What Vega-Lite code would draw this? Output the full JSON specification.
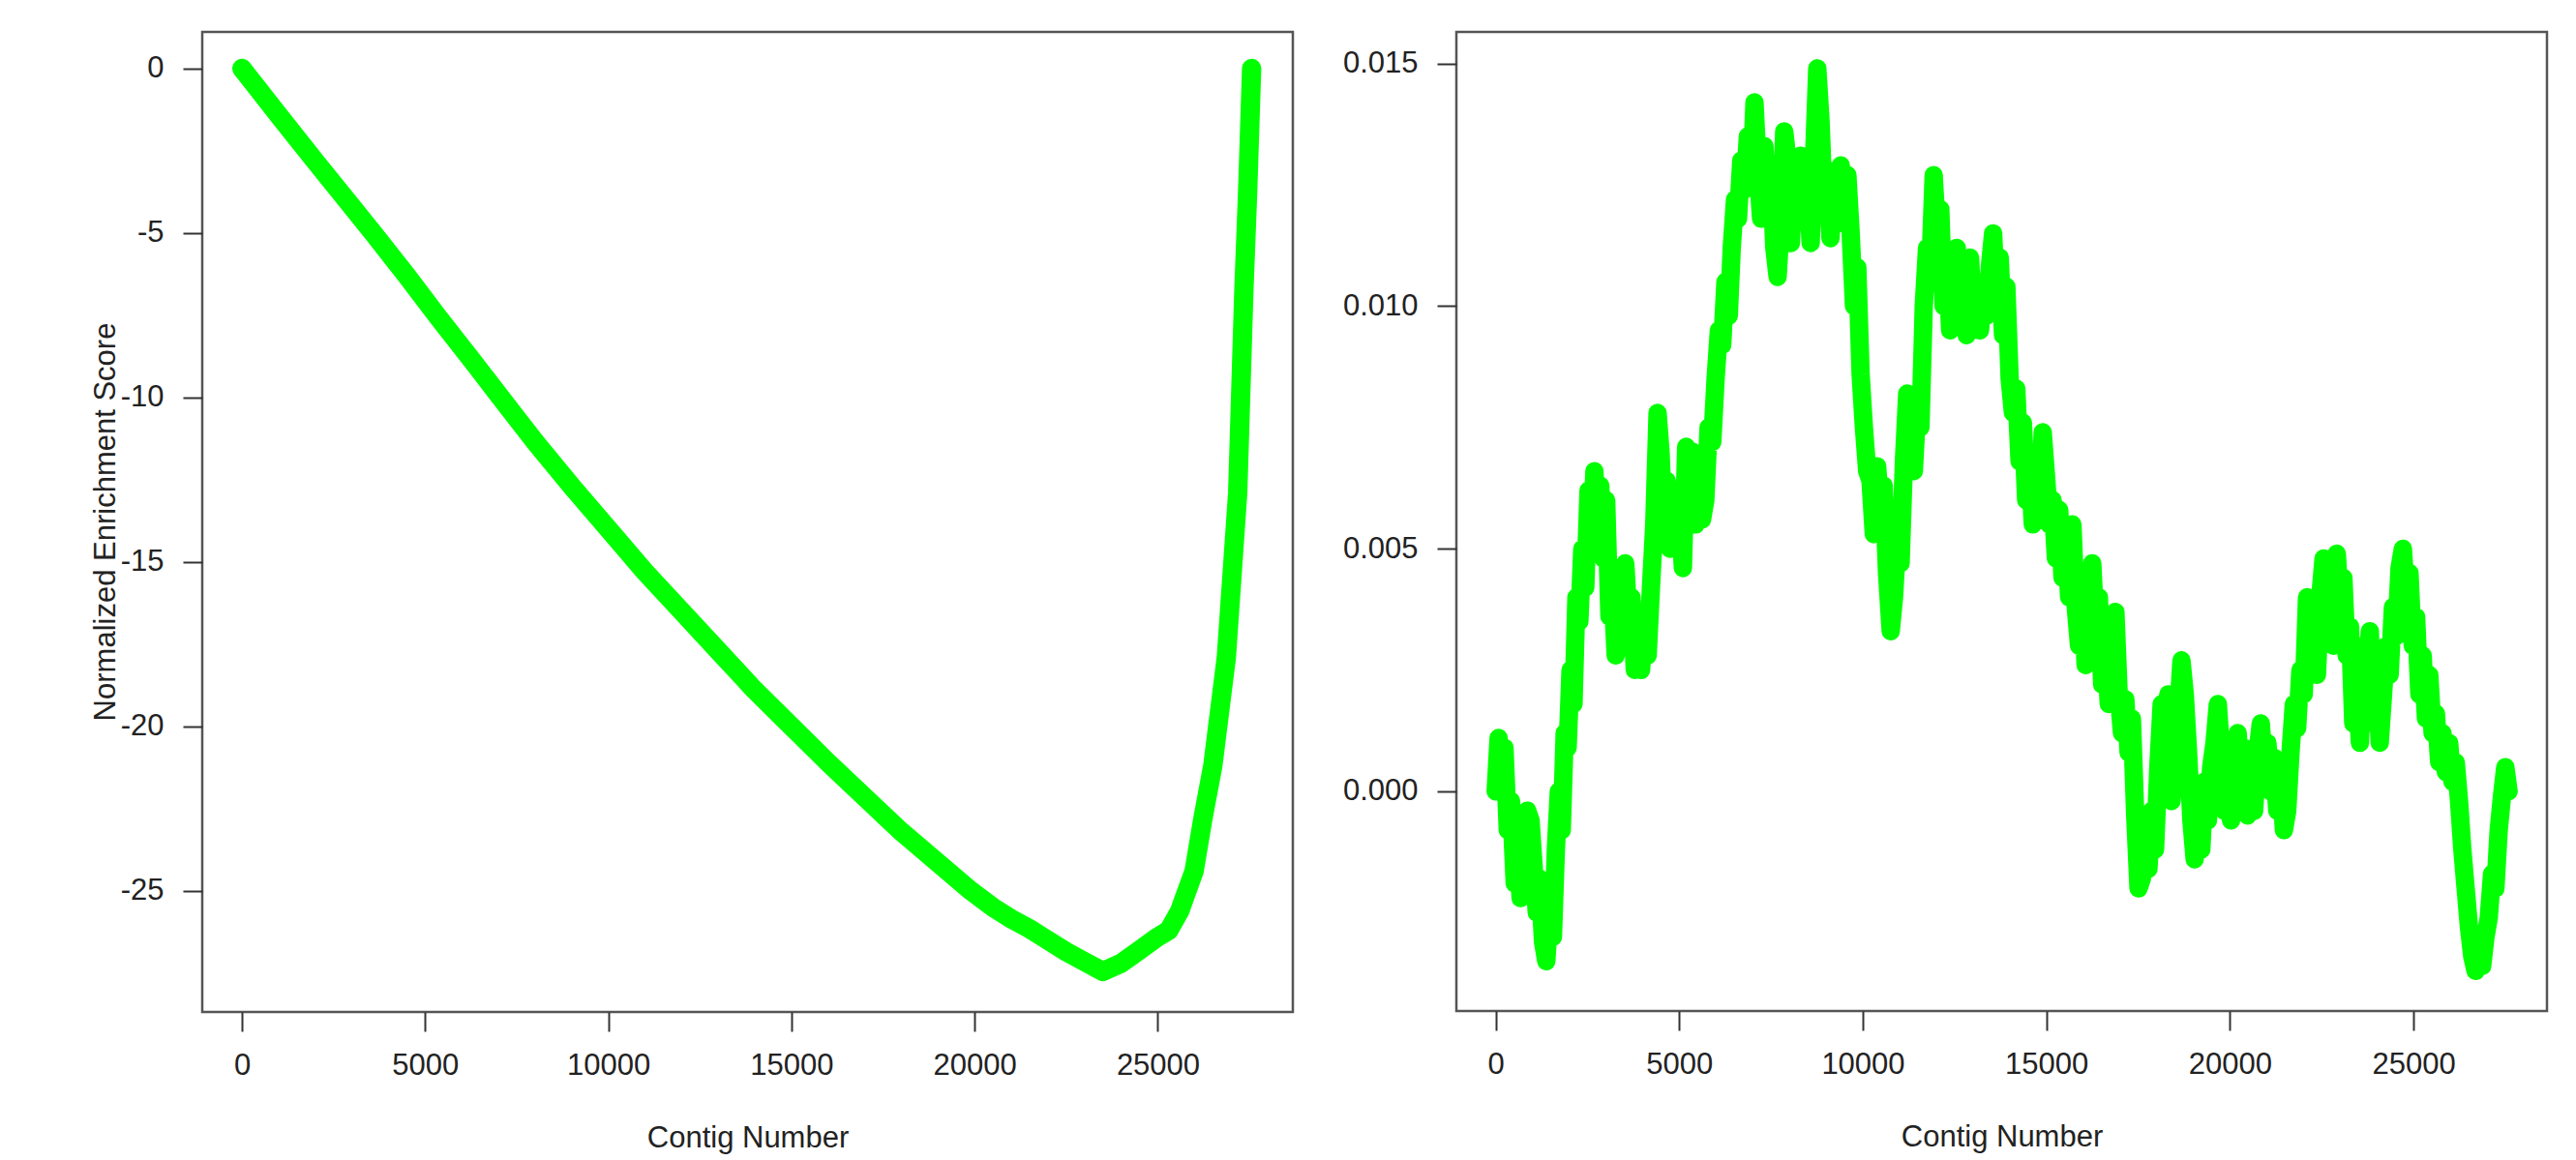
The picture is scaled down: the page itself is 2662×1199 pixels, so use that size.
{
  "$schema": "https://vega.github.io/schema/vega-lite/v6.json",
  "background": "white",
  "padding": {"left": 91, "top": 31, "right": 0, "bottom": 0},
  "bounds": "flush",
  "spacing": 169,
  "config": {
    "view": {"stroke": "#555", "strokeWidth": 2.5},
    "axis": {
      "labelFont": "Liberation Sans", "titleFont": "Liberation Sans",
      "labelFontSize": 31, "titleFontSize": 31, "labelColor": "#222", "titleColor": "#222",
      "titleFontWeight": "normal", "grid": false, "domain": false,
      "tickColor": "#333", "tickWidth": 2, "tickSize": 20, "labelPadding": 20
    }
  },
  "datasets": {
    "nes": [
      {"contig": 0, "nes": 0}, {"contig": 1000, "nes": -1.42}, {"contig": 2000, "nes": -2.82},
      {"contig": 3000, "nes": -4.2}, {"contig": 3580, "nes": -5.0}, {"contig": 4500, "nes": -6.3},
      {"contig": 5350, "nes": -7.55}, {"contig": 6300, "nes": -8.9}, {"contig": 7200, "nes": -10.2},
      {"contig": 8000, "nes": -11.35}, {"contig": 9000, "nes": -12.7}, {"contig": 10000, "nes": -14.0},
      {"contig": 11000, "nes": -15.3}, {"contig": 12000, "nes": -16.5}, {"contig": 13000, "nes": -17.7},
      {"contig": 14000, "nes": -18.9}, {"contig": 15000, "nes": -20.0}, {"contig": 16000, "nes": -21.1},
      {"contig": 17000, "nes": -22.15}, {"contig": 18000, "nes": -23.2}, {"contig": 19000, "nes": -24.15},
      {"contig": 19900, "nes": -25.0}, {"contig": 20500, "nes": -25.5}, {"contig": 21000, "nes": -25.85},
      {"contig": 21500, "nes": -26.15}, {"contig": 22000, "nes": -26.5}, {"contig": 22500, "nes": -26.85},
      {"contig": 23000, "nes": -27.15}, {"contig": 23500, "nes": -27.45}, {"contig": 24000, "nes": -27.2},
      {"contig": 24500, "nes": -26.8}, {"contig": 25000, "nes": -26.4}, {"contig": 25300, "nes": -26.2},
      {"contig": 25600, "nes": -25.6}, {"contig": 25990, "nes": -24.4}, {"contig": 26230, "nes": -22.8},
      {"contig": 26500, "nes": -21.2}, {"contig": 26870, "nes": -17.9}, {"contig": 27180, "nes": -12.9},
      {"contig": 27350, "nes": -6.7}, {"contig": 27450, "nes": -3.8}, {"contig": 27560, "nes": 0}
    ],
    "score": [
      {"contig":0,"score":0.0},{"contig":80,"score":0.0011},{"contig":160,"score":0.0003},{"contig":240,"score":0.0009},
      {"contig":330,"score":-0.0008},{"contig":420,"score":-0.0002},{"contig":520,"score":-0.0019},{"contig":600,"score":-0.0012},
      {"contig":680,"score":-0.0022},{"contig":760,"score":-0.0013},{"contig":860,"score":-0.0004},{"contig":950,"score":-0.0006},
      {"contig":1030,"score":-0.0015},{"contig":1120,"score":-0.0025},{"contig":1200,"score":-0.0018},{"contig":1290,"score":-0.0031},
      {"contig":1380,"score":-0.0035},{"contig":1470,"score":-0.0024},{"contig":1560,"score":-0.0030},{"contig":1640,"score":-0.0012},
      {"contig":1720,"score":0.0},{"contig":1800,"score":-0.0008},{"contig":1880,"score":0.0012},{"contig":1960,"score":0.0009},
      {"contig":2040,"score":0.0025},{"contig":2120,"score":0.0018},{"contig":2200,"score":0.0040},{"contig":2280,"score":0.0035},
      {"contig":2360,"score":0.0050},{"contig":2440,"score":0.0042},{"contig":2530,"score":0.0062},{"contig":2610,"score":0.0050},
      {"contig":2690,"score":0.0066},{"contig":2770,"score":0.0052},{"contig":2850,"score":0.0063},{"contig":2930,"score":0.0048},
      {"contig":3010,"score":0.0060},{"contig":3100,"score":0.0036},{"contig":3180,"score":0.0042},{"contig":3270,"score":0.0028},
      {"contig":3350,"score":0.0045},{"contig":3440,"score":0.0033},{"contig":3530,"score":0.0047},{"contig":3620,"score":0.0035},
      {"contig":3700,"score":0.0040},{"contig":3790,"score":0.0025},{"contig":3880,"score":0.0030},{"contig":3960,"score":0.0025},
      {"contig":4050,"score":0.0034},{"contig":4140,"score":0.0028},{"contig":4230,"score":0.0042},{"contig":4320,"score":0.0055},
      {"contig":4410,"score":0.0078},{"contig":4490,"score":0.0070},{"contig":4580,"score":0.0054},{"contig":4660,"score":0.0064},
      {"contig":4750,"score":0.0050},{"contig":4840,"score":0.0060},{"contig":4920,"score":0.0052},{"contig":5010,"score":0.0058},
      {"contig":5100,"score":0.0046},{"contig":5190,"score":0.0071},{"contig":5270,"score":0.0062},{"contig":5360,"score":0.0070},
      {"contig":5450,"score":0.0055},{"contig":5540,"score":0.0064},{"contig":5620,"score":0.0056},{"contig":5710,"score":0.0060},
      {"contig":5800,"score":0.0075},{"contig":5900,"score":0.0072},{"contig":5990,"score":0.0085},{"contig":6080,"score":0.0095},
      {"contig":6170,"score":0.0092},{"contig":6260,"score":0.0105},{"contig":6350,"score":0.0098},{"contig":6430,"score":0.0112},
      {"contig":6520,"score":0.0122},{"contig":6600,"score":0.0118},{"contig":6690,"score":0.0130},{"contig":6780,"score":0.0124},
      {"contig":6870,"score":0.0135},{"contig":6960,"score":0.0125},{"contig":7050,"score":0.0142},{"contig":7140,"score":0.0128},
      {"contig":7230,"score":0.0118},{"contig":7320,"score":0.0133},{"contig":7410,"score":0.0120},{"contig":7500,"score":0.0128},
      {"contig":7590,"score":0.0112},{"contig":7680,"score":0.0106},{"contig":7770,"score":0.0118},{"contig":7860,"score":0.0136},
      {"contig":7950,"score":0.0130},{"contig":8040,"score":0.0113},{"contig":8130,"score":0.0127},{"contig":8220,"score":0.0118},
      {"contig":8310,"score":0.0131},{"contig":8400,"score":0.0119},{"contig":8490,"score":0.0125},{"contig":8580,"score":0.0113},
      {"contig":8670,"score":0.0130},{"contig":8760,"score":0.0149},{"contig":8850,"score":0.0138},{"contig":8940,"score":0.0120},
      {"contig":9030,"score":0.0128},{"contig":9120,"score":0.0114},{"contig":9210,"score":0.0126},{"contig":9300,"score":0.0120},
      {"contig":9400,"score":0.0129},{"contig":9490,"score":0.0117},{"contig":9580,"score":0.0127},{"contig":9670,"score":0.0115},
      {"contig":9760,"score":0.0100},{"contig":9850,"score":0.0108},{"contig":9940,"score":0.0086},{"contig":10030,"score":0.0075},
      {"contig":10120,"score":0.0066},{"contig":10210,"score":0.0064},{"contig":10300,"score":0.0053},{"contig":10390,"score":0.0067},
      {"contig":10480,"score":0.0058},{"contig":10570,"score":0.0063},{"contig":10660,"score":0.0045},{"contig":10760,"score":0.0033},
      {"contig":10850,"score":0.0040},{"contig":10940,"score":0.0052},{"contig":11030,"score":0.0047},{"contig":11120,"score":0.0068},
      {"contig":11210,"score":0.0082},{"contig":11300,"score":0.0074},{"contig":11390,"score":0.0066},{"contig":11480,"score":0.0079},
      {"contig":11570,"score":0.0075},{"contig":11660,"score":0.0100},{"contig":11750,"score":0.0112},{"contig":11840,"score":0.0108},
      {"contig":11930,"score":0.0127},{"contig":12020,"score":0.0115},{"contig":12110,"score":0.0120},{"contig":12200,"score":0.0100},
      {"contig":12290,"score":0.0110},{"contig":12380,"score":0.0095},{"contig":12470,"score":0.0106},{"contig":12560,"score":0.0112},
      {"contig":12650,"score":0.0098},{"contig":12740,"score":0.0104},{"contig":12830,"score":0.0094},{"contig":12920,"score":0.0110},
      {"contig":13010,"score":0.0096},{"contig":13100,"score":0.0105},{"contig":13190,"score":0.0095},{"contig":13280,"score":0.0102},
      {"contig":13370,"score":0.0098},{"contig":13460,"score":0.0108},{"contig":13550,"score":0.0115},{"contig":13640,"score":0.0100},
      {"contig":13730,"score":0.0110},{"contig":13820,"score":0.0094},{"contig":13910,"score":0.0104},{"contig":14000,"score":0.0085},
      {"contig":14090,"score":0.0078},{"contig":14180,"score":0.0083},{"contig":14270,"score":0.0068},{"contig":14360,"score":0.0076},
      {"contig":14450,"score":0.0060},{"contig":14540,"score":0.0068},{"contig":14630,"score":0.0055},{"contig":14720,"score":0.0064},
      {"contig":14810,"score":0.0058},{"contig":14900,"score":0.0074},{"contig":14990,"score":0.0065},{"contig":15080,"score":0.0055},
      {"contig":15170,"score":0.0060},{"contig":15260,"score":0.0048},{"contig":15350,"score":0.0058},{"contig":15440,"score":0.0044},
      {"contig":15530,"score":0.0053},{"contig":15620,"score":0.0040},{"contig":15710,"score":0.0055},{"contig":15800,"score":0.0038},
      {"contig":15890,"score":0.0030},{"contig":15980,"score":0.0040},{"contig":16070,"score":0.0026},{"contig":16160,"score":0.0036},
      {"contig":16250,"score":0.0047},{"contig":16340,"score":0.0033},{"contig":16430,"score":0.0040},{"contig":16520,"score":0.0022},
      {"contig":16610,"score":0.0030},{"contig":16700,"score":0.0018},{"contig":16790,"score":0.0034},{"contig":16880,"score":0.0037},
      {"contig":16970,"score":0.0020},{"contig":17060,"score":0.0012},{"contig":17150,"score":0.0019},{"contig":17240,"score":0.0008},
      {"contig":17330,"score":0.0015},{"contig":17420,"score":-0.0005},{"contig":17510,"score":-0.0020},{"contig":17600,"score":-0.0018},
      {"contig":17690,"score":-0.0008},{"contig":17780,"score":-0.0016},{"contig":17870,"score":-0.0004},{"contig":17960,"score":-0.0012},
      {"contig":18050,"score":0.0005},{"contig":18140,"score":0.0018},{"contig":18230,"score":0.0008},{"contig":18320,"score":0.0020},
      {"contig":18410,"score":-0.0002},{"contig":18500,"score":0.0010},{"contig":18590,"score":0.0016},{"contig":18680,"score":0.0027},
      {"contig":18770,"score":0.0020},{"contig":18860,"score":0.0008},{"contig":18950,"score":-0.0006},{"contig":19040,"score":-0.0014},
      {"contig":19130,"score":-0.0004},{"contig":19220,"score":-0.0012},{"contig":19310,"score":0.0002},{"contig":19400,"score":-0.0006},
      {"contig":19490,"score":0.0005},{"contig":19580,"score":0.0010},{"contig":19670,"score":0.0018},{"contig":19760,"score":0.0008},
      {"contig":19850,"score":-0.0004},{"contig":19940,"score":0.0003},{"contig":20030,"score":-0.0006},{"contig":20120,"score":0.0004},
      {"contig":20210,"score":0.0012},{"contig":20300,"score":0.0003},{"contig":20390,"score":0.0009},{"contig":20480,"score":-0.0005},
      {"contig":20570,"score":0.0},{"contig":20660,"score":-0.0004},{"contig":20750,"score":0.0008},{"contig":20840,"score":0.0014},
      {"contig":20930,"score":0.0005},{"contig":21020,"score":0.0010},{"contig":21110,"score":0.0},{"contig":21200,"score":0.0007},
      {"contig":21290,"score":-0.0004},{"contig":21380,"score":0.0003},{"contig":21470,"score":-0.0008},{"contig":21560,"score":-0.0004},
      {"contig":21650,"score":0.0008},{"contig":21740,"score":0.0018},{"contig":21830,"score":0.0013},{"contig":21920,"score":0.0025},
      {"contig":22010,"score":0.0020},{"contig":22100,"score":0.0040},{"contig":22190,"score":0.0030},{"contig":22280,"score":0.0036},
      {"contig":22370,"score":0.0024},{"contig":22460,"score":0.0040},{"contig":22550,"score":0.0048},{"contig":22640,"score":0.0035},
      {"contig":22730,"score":0.0045},{"contig":22820,"score":0.0030},{"contig":22910,"score":0.0049},{"contig":23000,"score":0.0038},
      {"contig":23090,"score":0.0044},{"contig":23180,"score":0.0028},{"contig":23270,"score":0.0034},{"contig":23360,"score":0.0014},
      {"contig":23450,"score":0.0022},{"contig":23540,"score":0.0010},{"contig":23630,"score":0.0030},{"contig":23720,"score":0.0022},
      {"contig":23810,"score":0.0033},{"contig":23900,"score":0.0014},{"contig":23990,"score":0.0024},{"contig":24080,"score":0.0010},
      {"contig":24170,"score":0.0020},{"contig":24260,"score":0.0030},{"contig":24350,"score":0.0024},{"contig":24440,"score":0.0038},
      {"contig":24530,"score":0.0032},{"contig":24620,"score":0.0046},{"contig":24710,"score":0.0050},{"contig":24800,"score":0.0040},
      {"contig":24890,"score":0.0045},{"contig":24980,"score":0.0030},{"contig":25070,"score":0.0036},{"contig":25160,"score":0.0020},
      {"contig":25250,"score":0.0028},{"contig":25340,"score":0.0015},{"contig":25430,"score":0.0024},{"contig":25520,"score":0.0012},
      {"contig":25610,"score":0.0016},{"contig":25700,"score":0.0006},{"contig":25790,"score":0.0012},{"contig":25880,"score":0.0004},
      {"contig":25970,"score":0.0010},{"contig":26060,"score":0.0002},{"contig":26150,"score":0.0006},{"contig":26240,"score":-0.0002},
      {"contig":26330,"score":-0.0012},{"contig":26420,"score":-0.0020},{"contig":26510,"score":-0.0028},{"contig":26600,"score":-0.0034},
      {"contig":26690,"score":-0.0037},{"contig":26780,"score":-0.0033},{"contig":26870,"score":-0.0036},{"contig":26960,"score":-0.0030},
      {"contig":27050,"score":-0.0026},{"contig":27140,"score":-0.0017},{"contig":27230,"score":-0.0020},{"contig":27320,"score":-0.0008},
      {"contig":27410,"score":-0.0001},{"contig":27500,"score":0.0005},{"contig":27590,"score":0.0}
    ]
  },
  "hconcat": [
    {
      "width": 1127, "height": 1013,
      "data": {"name": "nes"},
      "mark": {"type": "line", "color": "#00ff00", "strokeWidth": 20, "strokeCap": "round", "strokeJoin": "round"},
      "encoding": {
        "x": {"field": "contig", "type": "quantitative",
              "scale": {"domain": [-1083, 28685], "nice": false, "zero": false},
              "axis": {"values": [0, 5000, 10000, 15000, 20000, 25000], "format": "d", "title": "Contig Number", "titlePadding": 45}},
        "y": {"field": "nes", "type": "quantitative",
              "scale": {"domain": [-28.68, 1.11], "nice": false, "zero": false},
              "axis": {"values": [0, -5, -10, -15, -20, -25],
                       "labelExpr": "datum.value < 0 ? '-' + abs(datum.value) : '' + datum.value",
                       "title": "Normalized Enrichment Score",
                       "titleX": -100, "titleY": 506, "titleBaseline": "middle", "titleAlign": "center", "titleAngle": -90}}
      }
    },
    {
      "width": 1127, "height": 1012,
      "data": {"name": "score"},
      "mark": {"type": "line", "color": "#00ff00", "strokeWidth": 19, "strokeCap": "round", "strokeJoin": "round"},
      "encoding": {
        "x": {"field": "contig", "type": "quantitative",
              "scale": {"domain": [-1070, 28635], "nice": false, "zero": false},
              "axis": {"values": [0, 5000, 10000, 15000, 20000, 25000], "format": "d", "title": "Contig Number", "titlePadding": 45}},
        "y": {"field": "score", "type": "quantitative",
              "scale": {"domain": [-0.004526, 0.01565], "nice": false, "zero": false},
              "axis": {"values": [0, 0.005, 0.01, 0.015], "format": ".3f", "title": null}}
      }
    }
  ]
}
